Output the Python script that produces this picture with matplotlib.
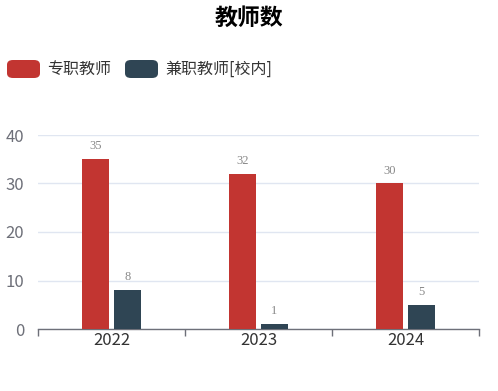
import matplotlib
matplotlib.use("Agg")
import matplotlib.pyplot as plt
from matplotlib.patches import FancyBboxPatch
import numpy as np

plt.rcParams['font.family'] = ['Noto Sans CJK SC', 'DejaVu Sans']

title = "教师数"
categories = ["2022", "2023", "2024"]
series_names = ["专职教师", "兼职教师[校内]"]
fulltime = [35, 32, 30]
parttime = [8, 1, 5]
colors = ["#c23531", "#2f4554"]

fig = plt.figure(figsize=(4.98, 3.91), dpi=100)
ax = fig.add_axes([38/498, 1-329/391, (479-38)/498, (329-135)/391])

x = np.arange(len(categories))
bw = 27/147
off = 16/147
for vals, sign, c in [(fulltime, -1, colors[0]), (parttime, 1, colors[1])]:
    bars = ax.bar(x + sign*off, vals, width=bw, color=c, zorder=3)
    for b, v in zip(bars, vals):
        ax.annotate(str(v), (b.get_x()+b.get_width()/2, v), xytext=(0, 5),
                    textcoords="offset points", ha="center", va="bottom",
                    fontsize=9, color="#888888", family=["Liberation Serif", "DejaVu Serif"])

ax.set_xlim(-0.5, 2.5)
ax.set_ylim(0, 40)
ax.set_yticks([0, 10, 20, 30, 40])
ax.yaxis.grid(True, color="#e0e6f1", linewidth=1, zorder=0)
ax.tick_params(axis='y', length=0, labelsize=12, labelcolor="#6e7079", pad=10)
ax.set_xticks(x)
ax.set_xticklabels(categories)
ax.tick_params(axis='x', length=0, labelsize=12, labelcolor="#333333", pad=2)
ax.set_xticks([-0.5, 0.5, 1.5, 2.5], minor=True)
ax.tick_params(axis='x', which='minor', length=5, color="#6e7079", width=1)
for s in ["top", "right", "left"]:
    ax.spines[s].set_visible(False)
ax.spines["bottom"].set_color("#6e7079")
ax.spines["bottom"].set_linewidth(1)

fig.text(0.5, 1-18/391, title, ha="center", va="center", fontsize=16.5, fontweight="bold", color="#000000")

# legend
W, H = 498, 391
for (x0, tx), name, c in zip([(7, 47), (125, 165)], series_names, colors):
    p = FancyBboxPatch((x0/W, 1-78/H), 33/W, 18/H,
                       boxstyle="round,pad=0,rounding_size=0.012",
                       transform=fig.transFigure, facecolor=c, edgecolor="none")
    fig.patches.append(p)
    fig.text(tx/W, 1-69/H, name, ha="left", va="center", fontsize=11.5, color="#333333")

fig.savefig("out.png", dpi=100)
